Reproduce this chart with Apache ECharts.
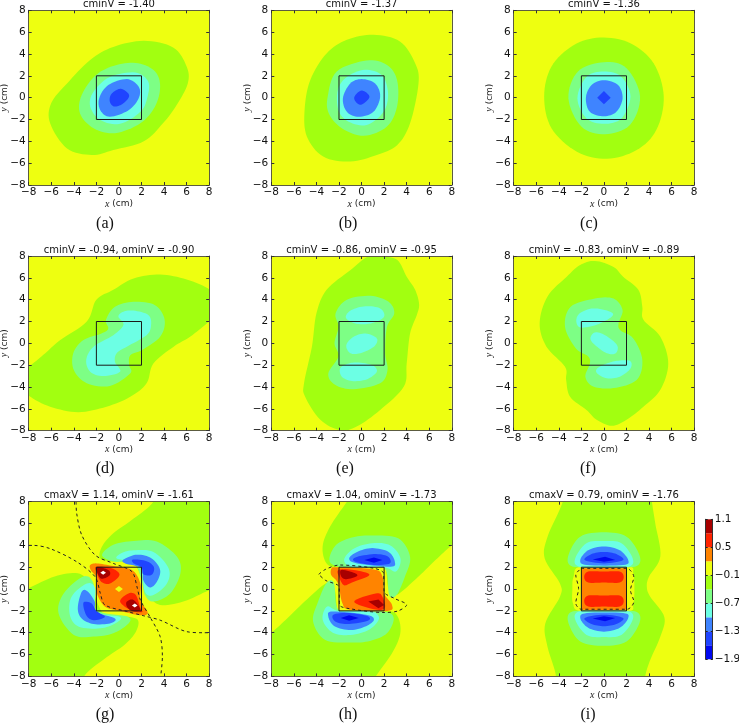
<!DOCTYPE html>
<html>
<head>
<meta charset="utf-8">
<style>
  html, body { margin: 0; padding: 0; background: #fff; }
  #main { width: 739px; height: 723px; }
</style>
<script src="https://cdn.jsdelivr.net/npm/echarts@6/dist/echarts.min.js"></script>
</head>
<body>
<div id="main"></div>
<script>
// panel text
const panelTitles = [
  'cminV = -1.40', 'cminV = -1.37', 'cminV = -1.36',
  'cminV = -0.94, ominV = -0.90', 'cminV = -0.86, ominV = -0.95', 'cminV = -0.83, ominV = -0.89',
  'cmaxV = 1.14, ominV = -1.61', 'cmaxV = 1.04, ominV = -1.73', 'cmaxV = 0.79, ominV = -1.76'
];
const panelLabels = ['(a)', '(b)', '(c)', '(d)', '(e)', '(f)', '(g)', '(h)', '(i)'];

// colour bar: band edges and ticks
const bandEdges = [-1.9, -1.6, -1.3, -1.0, -0.7, -0.4, -0.1, 0.2, 0.5, 0.8, 1.1];
const barTicks = [-1.9, -1.3, -0.7, -0.1, 0.5, 1.1];

// band numbers, counted up from the bottom of the colour bar
const DEEP = 0, MID = 1, BLUE = 2, CYAN = 3, PALE = 4, GREEN = 5, YELLOW = 6, ORANGE = 7, RED = 8, DARK = 9, OVER = 10;

// the box drawn on every panel, in cm
const boxOutline = [[-2, -2], [2, -2], [2, 2], [-2, 2], [-2, -2]];

// filled contours in cm, painted in this order: [band, outline]
const contoursA = [
  [GREEN, [[2.2,5.2],[4.8,4.6],[6,2.85],[6.1,1.3],[5.1,-0.7],[3.9,-2.35],[2.2,-4],[-0.5,-4.8],[-2.4,-5.25],[-4.6,-4.65],[-6.1,-2.35],[-6,-0.5],[-4.6,1.3],[-2.55,3.45],[-0.5,4.65]]],
  [PALE, [[1.7,3.15],[3.2,2.4],[3.65,1],[3.2,-0.8],[1.9,-2.35],[-0.35,-3.25],[-2.25,-2.8],[-3.45,-1.45],[-3.3,0.25],[-2,2.1],[-0.2,3]]],
  [CYAN, [[1.45,2.3],[2.6,1.45],[2.5,-0.05],[1.9,-1.3],[0.1,-2.4],[-1.65,-2.05],[-2.55,-0.8],[-2.25,0.55],[-0.8,1.9]]],
  [BLUE, [[0.7,1.7],[1.75,1],[1.75,-0.05],[0.85,-1.15],[-0.8,-1.75],[-1.65,-1.15],[-1.75,-0.05],[-0.95,1.15]]],
  [MID, [[0.25,0.8],[0.85,0.35],[0.8,-0.1],[0.2,-0.65],[-0.45,-0.8],[-0.8,-0.4],[-0.75,0.2],[-0.3,0.65]]]
];
const contoursB = [
  [GREEN, [[1.05,5.75],[3.4,5.15],[4.75,3.15],[5.05,1.3],[4.3,-2.35],[3.15,-4.35],[1.35,-5.25],[-1,-5.85],[-3.4,-5.4],[-4.85,-3.55],[-5.05,-1.15],[-4.55,1.6],[-3.1,4.05],[-1.3,5.3]]],
  [PALE, [[0.45,3.4],[2.25,3],[3.15,1.6],[3.15,-0.8],[2.25,-2.65],[0.2,-3.5],[-1.75,-2.8],[-2.9,-1.45],[-3,0.1],[-2.2,2.4]]],
  [CYAN, [[0.3,2.55],[1.8,2.05],[2.35,0.4],[1.95,-1.3],[0.45,-2.5],[-1.15,-2.2],[-2.05,-1.15],[-2.1,0.7],[-1.3,1.9]]],
  [BLUE, [[0,1.7],[1.2,1.3],[1.65,0.1],[1.05,-1.3],[-0.25,-1.75],[-1.3,-1.3],[-1.65,-0.05],[-1,1.3]]],
  [MID, [[0,0.65],[0.45,0.45],[0.7,0.05],[0.35,-0.4],[-0.1,-0.65],[-0.5,-0.4],[-0.65,0],[-0.4,0.4]]]
];
const contoursC = [
  [GREEN, [[-0.35,5.5],[2.3,5],[4.4,3.15],[5.3,0.1],[4.65,-2.95],[2.9,-4.8],[0.25,-5.6],[-2.4,-4.95],[-4.65,-2.8],[-5.3,0.1],[-4.65,2.85],[-2.7,4.8]]],
  [PALE, [[0,3.25],[2,2.7],[3.2,0.1],[2.3,-2.5],[0.1,-3.35],[-2,-2.65],[-3.15,-0.05],[-2.3,2.4]]],
  [CYAN, [[0,2.4],[1.55,1.9],[2.35,0.1],[1.55,-1.9],[0,-2.4],[-1.55,-1.9],[-2.35,-0.05],[-1.55,1.9]]],
  [BLUE, [[0,1.6],[1.25,1.15],[1.65,-0.05],[1.1,-1.3],[0,-1.7],[-1.25,-1.3],[-1.6,0],[-1.1,1.15]]],
  [MID, [[0,0.6],[0.6,0],[0,-0.6],[-0.6,0]]]
];
const contoursD = [
  [GREEN, [[3.65,6.3],[6,5.85],[8.1,4.9],[9.6,3.4],[8,2],[6.3,0.6],[4.85,-0.3],[3.05,-1.85],[2.45,-3.65],[1,-4.9],[-1.1,-5.8],[-3.6,-6.3],[-6.1,-5.8],[-8,-4.8],[-9.6,-3.4],[-8,-2.15],[-6.7,-1.05],[-5.2,0.3],[-2.85,2],[-2,4],[-0.5,4.9],[1.3,5.95]]],
  [PALE, [[1.3,3.8],[3.2,3.5],[4.05,2.15],[3.65,0.6],[2.05,-0.6],[1,-1.1],[0.9,-2],[1,-2.75],[-0.8,-3.9],[-2.85,-3.65],[-4,-2.45],[-4.05,-0.9],[-3.15,0.3],[-1.55,0.9],[-0.95,1.35],[-1.15,2.15],[-0.35,3.35]]],
  [CYAN, [[1.3,3],[2.6,2.6],[2.85,1.7],[2.45,0.75],[0.7,-0.3],[-0.2,-0.9],[-0.35,-1.7],[0.1,-2.6],[-1.4,-3],[-2.55,-2.6],[-2.9,-1.5],[-2.25,-0.3],[-0.5,0.75],[0.4,1.7],[-0.05,2.45],[0.4,2.9]]]
];
const contoursE = [
  [GREEN, [[1.65,7.95],[3.15,7.65],[4,6.1],[4.75,4.9],[5.1,3.6],[4.9,2.6],[4.3,0.9],[4,-1.85],[3.75,-3.95],[1.65,-6.1],[-0.4,-7.6],[-1.9,-7.95],[-3.65,-7],[-5,-4.9],[-5.1,-3.65],[-4.4,-0.3],[-4,2.75],[-3.1,4.9],[-1,6.7],[0.5,7.9]]],
  [PALE, [[0.8,4.35],[2.4,3.8],[2.9,2.75],[2.25,1.5],[2.1,-0.9],[2.3,-2.45],[1.65,-3.65],[-0.7,-4.2],[-2.35,-3.8],[-2.95,-2.75],[-2.05,-1.2],[-2.4,0],[-2.05,1.5],[-2.3,2.75],[-1.3,4]]],
  [CYAN, [[0.35,3.4],[1.65,3.2],[2,2.45],[1.1,1.9],[-0.1,1.75],[-1,2],[-1.4,2.45],[-0.9,3.05]]],
  [CYAN, [[0.35,0.9],[1.35,0.45],[1.1,-0.3],[-0.1,-0.9],[-1,-0.9],[-1.35,-0.15],[-0.7,0.6]]],
  [CYAN, [[-0.4,-1.75],[0.95,-2],[1.35,-2.6],[0.45,-3.3],[-0.85,-3.45],[-1.75,-3.05],[-1.9,-2.3],[-1.3,-1.9]]]
];
const contoursF = [
  [GREEN, [[-0.8,7.55],[0.85,7],[1.7,6.1],[3.05,4.9],[3.4,3.35],[3.5,2.15],[5,0.6],[5.7,-1.85],[5,-4.25],[3.5,-5.8],[2,-7],[0.7,-7.55],[-0.65,-7],[-1.55,-6.1],[-3,-4.9],[-3.35,-3.35],[-3.45,-2.15],[-5.1,-0.3],[-5.7,1.85],[-5,4.3],[-3.3,6.1],[-2.15,7.15]]],
  [PALE, [[-0.8,4.1],[0.85,4.1],[1.65,3.05],[1.3,1.85],[1.45,1.2],[2.6,0.45],[3.4,-1.5],[2.9,-3.35],[0.85,-4.1],[-0.95,-3.95],[-1.65,-3.05],[-1.25,-1.85],[-1.4,-1.2],[-2.5,-0.45],[-3.45,1.5],[-2.95,3.35]]],
  [CYAN, [[-0.95,3.2],[0.55,2.9],[0.7,2.45],[-0.65,1.7],[-2.05,1.45],[-2.45,2],[-2.15,2.75]]],
  [CYAN, [[-0.8,1],[0.1,0.75],[1.15,-0.15],[1.05,-0.9],[0.25,-0.9],[-0.8,-0.15],[-1.2,0.45]]],
  [CYAN, [[1.15,-1.6],[2.3,-1.6],[2.35,-2.3],[1.4,-3.05],[0.25,-3.2],[-0.6,-2.75],[-0.6,-2.3],[0.25,-1.85]]]
];
const contoursG = [
  [GREEN, [[3.05,8],[1.3,6.45],[-0.5,5.1],[-1.5,3.9],[-1.65,2.8],[-0.35,2.5],[1.3,2.35],[2.2,0.5],[2.6,-0.55],[3.65,-1.45],[5.7,-1.15],[8,-0.1],[9.5,0.5],[10,9],[3.5,10]]],
  [GREEN, [[-3.1,-8],[-1.3,-6.4],[0.5,-5.1],[1.5,-3.9],[1.65,-2.8],[0.35,-2.5],[-1.3,-2.35],[-2.2,-0.5],[-2.6,0.55],[-3.65,1.45],[-5.7,1.15],[-8,0.1],[-9.5,-0.5],[-10,-9],[-3.5,-10]]],
  [PALE, [[1.3,4.4],[3.35,4.35],[5.15,2.95],[5.45,1.45],[4.55,-0.4],[3.05,-1.15],[2.3,-0.55],[2,0.8],[1.3,2.5],[-0.35,2.5],[-1.5,3.1],[-0.5,4.05]]],
  [PALE, [[-5.35,-2.25],[-4.9,-0.4],[-3.15,1.15],[-2.25,0.5],[-2,-1.9],[0.7,-2.5],[0.85,-3.15],[-0.5,-4.05],[-2.25,-4.35],[-4,-4.2]]],
  [CYAN, [[1.3,3.55],[3.05,3.4],[4.4,1.9],[4.25,0.5],[3.05,-0.55],[2.3,-0.25],[2,1.75],[1.3,2.5],[-0.2,2.8],[0.25,3.3]]],
  [CYAN, [[-4.35,-2.4],[-4.2,-0.7],[-2.85,0.5],[-2.1,0.05],[-2,-2.1],[0.1,-2.55],[-0.35,-3.15],[-1.65,-3.6],[-3.55,-3.45]]],
  [BLUE, [[1.6,3.15],[2.9,2.8],[3.65,1.75],[3.35,0.65],[2.75,0.15],[2.15,0.8],[2,1.9],[0.55,2.35],[0.4,2.7]]],
  [BLUE, [[-3.65,-1.75],[-3.3,-0.25],[-2.8,-0.2],[-2.15,-1.15],[-2,-2.1],[-0.35,-2.7],[-0.8,-3.15],[-2.25,-3.2],[-3.3,-2.7]]],
  [MID, [[1.25,2.7],[2.45,2.55],[3.1,2],[2.9,1.3],[2.15,1.35],[2,2],[1.3,2.35]]],
  [MID, [[-3.15,-1.25],[-2.45,-1.3],[-2,-2],[-1.25,-2.55],[-2.25,-2.85],[-2.9,-2.4]]],
  [ORANGE, [[-2.55,2.2],[-1.95,2.35],[-0.5,2.1],[1.15,1.75],[1.9,0.5],[1.9,-1],[2.55,-2.15],[1.9,-2.4],[0.1,-2],[-1.25,-1.6],[-2,-0.25],[-2,1],[-2.5,1.75]]],
  [RED, [[-2,2.05],[-0.65,1.9],[0.05,1.3],[-0.8,0.5],[-1.55,0.65],[-1.95,1.45]]],
  [RED, [[0.1,-1.15],[0.85,-0.4],[1.5,-0.55],[1.9,-1.75],[2.05,-2.1],[1.15,-2]]],
  [DARK, [[-2,2],[-0.95,1.75],[-0.8,1.3],[-1.25,1],[-1.7,1.05]]],
  [DARK, [[0.7,-1.15],[1.3,-1],[1.9,-1.9],[1.15,-2],[0.7,-1.6]]],
  [OVER, [[-1.65,1.5],[-1.4,1.68],[-1.15,1.5],[-1.4,1.32]]],
  [OVER, [[1.15,-1.5],[1.4,-1.32],[1.65,-1.5],[1.4,-1.68]]],
  [YELLOW, [[-0.35,0],[0,0.27],[0.35,0],[0,-0.27]]]
];
const contoursH = [
  [GREEN, [[-1.3,8],[-2.8,5.7],[-3.45,3.9],[-3.1,2.35],[-1.95,2],[2,2],[2.2,1.5],[2.4,0],[3.1,-0.55],[5.05,1.15],[6.55,2.65],[8,4],[9.5,5],[10,9],[0,10]]],
  [GREEN, [[1.25,-8],[2.8,-5.7],[3.45,-3.9],[3.1,-2.35],[1.95,-2],[-2,-2],[-2.2,-1.5],[-2.4,0],[-3.1,0.55],[-5.05,-1.15],[-6.55,-2.65],[-8,-4],[-9.5,-5],[-10,-9],[0,-10]]],
  [PALE, [[0.95,4.9],[3.25,4.65],[4.3,2.95],[3.85,1.15],[3.1,-0.55],[2.45,-0.55],[2.15,1.75],[0.95,2],[-1.95,2.05],[-2.85,2.65],[-2.25,4.05],[-0.75,4.75]]],
  [PALE, [[-0.95,-4.9],[-3.25,-4.65],[-4.3,-2.95],[-3.85,-1.15],[-3.1,0.55],[-2.45,0.55],[-2.15,-1.75],[-0.95,-2],[1.95,-2.05],[2.85,-2.65],[2.25,-4.05],[0.75,-4.75]]],
  [CYAN, [[0.95,4.2],[2.55,4],[3.45,2.8],[3.05,1.6],[2,2],[-0.7,2],[-1.55,2.65],[-0.7,3.7]]],
  [CYAN, [[-0.95,-4.2],[-2.55,-4],[-3.45,-2.8],[-3.05,-1.6],[-2,-2],[0.7,-2],[1.55,-2.65],[0.7,-3.7]]],
  [BLUE, [[0.95,3.75],[2.4,3.4],[2.95,2.5],[2.55,2.05],[-0.4,2.35],[-1.1,2.8],[-0.4,3.4]]],
  [BLUE, [[-0.95,-3.75],[-2.4,-3.4],[-2.95,-2.5],[-2.55,-2.05],[0.4,-2.35],[1.1,-2.8],[0.4,-3.4]]],
  [MID, [[1.1,3.2],[2.3,3],[2.5,2.35],[1.1,2.2],[-0.55,2.5],[-0.55,2.9]]],
  [MID, [[-1.1,-3.2],[-2.3,-3],[-2.5,-2.35],[-1.1,-2.2],[0.55,-2.5],[0.55,-2.9]]],
  [DEEP, [[1.1,2.9],[1.85,2.65],[1.1,2.4],[0.25,2.65]]],
  [DEEP, [[-1.1,-2.9],[-1.85,-2.65],[-1.1,-2.4],[-0.25,-2.65]]],
  [ORANGE, [[-2.65,1.9],[-2.1,2],[1.1,1.8],[1.85,1.15],[2,-0.4],[2.7,-1.45],[2.3,-2],[-1,-1.9],[-1.7,-1.3],[-2,0.2],[-2.25,0.8],[-2.7,1.3]]],
  [RED, [[-2.05,1.75],[-0.7,1.75],[0.7,1.3],[-0.85,0.6],[-1.55,0.35],[-1.95,1]]],
  [RED, [[-0.65,-1.15],[1.25,-0.4],[1.85,-0.7],[2.05,-1.75],[1.1,-1.85]]],
  [DARK, [[-1.8,1.75],[-0.7,1.5],[-0.4,1.2],[-1.35,0.9],[-1.8,1.15]]],
  [DARK, [[0.6,-1.15],[1.5,-0.95],[2,-1.45],[1.5,-1.75]]]
];
const contoursI = [
  [GREEN, [[4.25,8],[4.55,6],[5,3],[4,1.15],[3.8,0.2],[4.1,-0.7],[5.35,-2.55],[5,-4.35],[4.1,-6.5],[3.65,-8],[3.4,-10],[-4.5,-10],[-4.25,-8],[-5,-5.3],[-5.2,-3.15],[-3.9,-0.7],[-3.9,0.5],[-5.25,2.8],[-5,4.8],[-3.65,8],[-3.5,10],[4,10]]],
  [YELLOW, [[-2,2.1],[2.1,2.1],[2.6,1.4],[2.7,0],[2.6,-1.4],[2.1,-2.05],[-2,-2.05],[-2.75,-1.3],[-2.8,0],[-2.7,1.1]]],
  [PALE, [[0,5.2],[2,4.8],[3.15,3.1],[2.9,2.1],[1,2],[-1,2],[-2.9,2.1],[-3.15,3.1],[-2.1,4.8]]],
  [PALE, [[0,-5.2],[-2.1,-4.8],[-3.15,-3.1],[-2.9,-2.1],[-1,-2],[1,-2],[2.9,-2.1],[3.15,-3.1],[2,-4.8]]],
  [CYAN, [[0,4.4],[1.55,4.2],[2.55,2.8],[2.2,2.05],[0,1.95],[-2.2,2.05],[-2.55,2.8],[-1.55,4.2]]],
  [CYAN, [[0,-4.4],[-1.55,-4.2],[-2.55,-2.8],[-2.2,-2.05],[0,-1.95],[2.2,-2.05],[2.55,-2.8],[1.55,-4.2]]],
  [BLUE, [[0,3.9],[1.4,3.55],[2.15,2.65],[1.7,2.2],[-1.5,2.2],[-2.1,2.65],[-1.4,3.55]]],
  [BLUE, [[0,-3.9],[-1.4,-3.55],[-2.1,-2.65],[-1.5,-2.2],[1.7,-2.2],[2.15,-2.65],[1.4,-3.55]]],
  [MID, [[0,3.4],[1.1,3.2],[1.7,2.65],[0,2.35],[-1.7,2.65],[-1.1,3.2]]],
  [MID, [[0,-3.4],[-1.1,-3.2],[-1.7,-2.65],[0,-2.35],[1.7,-2.65],[1.1,-3.2]]],
  [DEEP, [[0.1,2.95],[1,2.65],[0,2.5],[-1,2.7]]],
  [DEEP, [[0.1,-2.95],[-1,-2.7],[0,-2.5],[1,-2.65]]],
  [ORANGE, [[-1.7,1.9],[1.7,1.9],[2,1.6],[2,-1.6],[1.7,-1.9],[-1.7,-1.9],[-2,-1.6],[-2,1.6]]],
  [RED, [[-1.4,1.6],[0,1.6],[1.4,1.6],[1.75,1.1],[1.4,0.6],[0,0.6],[-1.4,0.6],[-1.75,1.1]]],
  [RED, [[-1.4,-0.6],[0,-0.6],[1.4,-0.6],[1.75,-1.1],[1.4,-1.6],[0,-1.6],[-1.4,-1.6],[-1.75,-1.1]]]
];
const panelContours = [contoursA, contoursB, contoursC, contoursD, contoursE, contoursF, contoursG, contoursH, contoursI];

// dashed zero contours, in cm
const zeroLinesG = [
  [[-3.8,8],[-3.75,6.95],[-3.3,4.95],[-2.1,3.1],[-0.5,2.35],[1.15,1.6],[1.6,0.2],[1.9,-1],[2.75,-2.55],[3.65,-4.35],[3.85,-6.2],[3.7,-8]],
  [[-8,4],[-7.6,4],[-6.1,3.7],[-3.75,2.5],[-2.1,1.1],[-1.65,-0.4],[-1.25,-1.45],[0.7,-2.05],[2.2,-2.45],[3.65,-2.85],[6,-3.9],[7.5,-4],[8,-4]]
];
const zeroLinesH = [
  [[-3.8,1.35],[-3.2,1.8],[-1.95,2.2],[1.1,1.9],[1.95,1.45],[2,-0.25],[2.9,-0.85],[4,-1.45],[3.25,-2],[2,-2.15],[-1.05,-1.8],[-1.95,-1.45],[-2,0.2],[-3.2,0.8],[-3.8,1.35]]
];
const zeroLinesI = [
  [[-2,1.9],[2,1.9],[2.65,1.1],[2.35,-0.1],[2.65,-1.15],[2.05,-1.85],[-2,-1.85],[-2.5,-1.3],[-2.25,0.05],[-2.5,1.3],[-2,1.9]]
];
const panelZeroLines = [[], [], [], [], [], [], zeroLinesG, zeroLinesH, zeroLinesI];

const bandColours = ['#0008f0', '#1f44ff', '#3f84ff', '#6cffe4', '#7dff85', '#a2ff10', '#eeff10', '#ff8400', '#ff2400', '#a80000', '#ffffff'];
const colLefts = [28.7, 271.3, 513.7];
const rowTops = [10.3, 256, 501.7];
const labelCentres = [105, 348, 589, 105, 345, 588, 105, 348, 588];
const plotWidth = 180.5;
const plotHeight = 174.7;
const sansFont = '"DejaVu Sans", sans-serif';
const serifFont = '"Liberation Serif", serif';

function minusSign(v) {
  return String(v).replace('-', '\u2212');
}

function nameRich() {
  return { i: { fontFamily: serifFont, fontStyle: 'italic', fontSize: 10, color: '#222' } };
}

// rounds a closed outline of pixel points (Catmull-Rom), only for drawing
function roundOutline(pts) {
  if (pts.length < 5) return pts;
  var out = [];
  var n = pts.length;
  for (var i = 0; i < n; i++) {
    var p0 = pts[(i + n - 1) % n], p1 = pts[i], p2 = pts[(i + 1) % n], p3 = pts[(i + 2) % n];
    for (var s = 0; s < 8; s++) {
      var t = s / 8, t2 = t * t, t3 = t2 * t;
      out.push([0, 1].map(function (k) {
        return 0.5 * (2 * p1[k] + (p2[k] - p0[k]) * t + (2 * p0[k] - 5 * p1[k] + 4 * p2[k] - p3[k]) * t2 + (3 * p1[k] - p0[k] - 3 * p2[k] + p3[k]) * t3);
      }));
    }
  }
  return out;
}

var option = { animation: false, backgroundColor: '#fff', title: [], grid: [], xAxis: [], yAxis: [], series: [] };

panelTitles.forEach(function (text, p) {
  var col = p % 3;
  var row = Math.floor(p / 3);
  var left = colLefts[col];
  var top = rowTops[row];

  option.title.push({
    text: text,
    left: left + plotWidth / 2,
    top: top - 11,
    textAlign: 'center',
    padding: 0,
    textStyle: { fontFamily: sansFont, fontSize: 10, fontWeight: 'normal', color: '#111' }
  });
  option.title.push({
    text: panelLabels[p],
    left: labelCentres[p],
    top: top + 205,
    textAlign: 'center',
    padding: 0,
    textStyle: { fontFamily: serifFont, fontSize: 16, fontWeight: 'normal', color: '#111' }
  });

  option.grid.push({
    left: left, top: top, width: plotWidth, height: plotHeight, show: true,
    backgroundColor: bandColours[YELLOW], borderWidth: 0, outerBoundsMode: 'none'
  });

  var axisBase = {
    gridIndex: p, type: 'value', min: -8, max: 8, interval: 2, z: 10,
    splitLine: { show: false },
    axisLine: { show: true, onZero: false, lineStyle: { color: '#5c5c40', width: 1 } },
    axisTick: { show: true, inside: true, length: 3, lineStyle: { color: '#333', width: 1 } }
  };
  var xLabels = {
    show: true, fontFamily: sansFont, fontSize: 10.5, color: '#111', margin: 2,
    showMinLabel: true, showMaxLabel: true, hideOverlap: false, formatter: minusSign
  };
  var yLabels = Object.assign({}, xLabels, { margin: 3 });
  option.xAxis.push(Object.assign({}, axisBase, {
    position: 'bottom',
    axisLabel: xLabels,
    name: '{i|x} (cm)', nameLocation: 'middle', nameGap: 14,
    nameTextStyle: { fontFamily: sansFont, fontSize: 9, color: '#222', rich: nameRich() }
  }));
  option.xAxis.push(Object.assign({}, axisBase, { position: 'top', axisLabel: { show: false } }));
  option.yAxis.push(Object.assign({}, axisBase, {
    position: 'left',
    axisLabel: yLabels,
    name: '{i|y} (cm)', nameLocation: 'middle', nameGap: 19, nameMoveOverlap: false,
    nameTextStyle: { fontFamily: sansFont, fontSize: 9, color: '#222', rich: nameRich() }
  }));
  option.yAxis.push(Object.assign({}, axisBase, { position: 'right', axisLabel: { show: false } }));

  var contours = panelContours[p];
  option.series.push({
    type: 'custom',
    xAxisIndex: p * 2,
    yAxisIndex: p * 2,
    clip: true,
    silent: true,
    z: 2,
    data: contours.map(function (c, i) { return [i]; }),
    encode: { x: -1, y: -1 },
    renderItem: function (params, api) {
      var item = contours[api.value(0)];
      return {
        type: 'polygon',
        shape: { points: roundOutline(item[1].map(function (pt) { return api.coord(pt); })) },
        style: { fill: bandColours[item[0]] }
      };
    }
  });

  panelZeroLines[p].forEach(function (line) {
    option.series.push({
      type: 'line', xAxisIndex: p * 2, yAxisIndex: p * 2, data: line, symbol: 'none', smooth: 0.3, silent: true, z: 4,
      lineStyle: { color: '#222', width: 1, type: [3, 3] }
    });
  });

  option.series.push({
    type: 'line', xAxisIndex: p * 2, yAxisIndex: p * 2, data: boxOutline, symbol: 'none', silent: true, z: 5,
    lineStyle: { color: '#1a1a1a', width: 1 }
  });
});

// colour bar
var barAxis = {
  gridIndex: 9, type: 'value', min: -1.9, max: 1.1, z: 10,
  splitLine: { show: false },
  axisLine: { show: true, onZero: false, lineStyle: { color: '#333', width: 1 } },
  axisTick: { show: true, inside: true, length: 2, customValues: barTicks, lineStyle: { color: '#222' } }
};
option.grid.push({ left: 705.7, top: 519.3, width: 7, height: 140, show: false, outerBoundsMode: 'none' });
option.xAxis.push({ gridIndex: 9, type: 'value', min: 0, max: 1, show: false });
option.yAxis.push(Object.assign({}, barAxis, {
  position: 'right',
  axisLabel: { show: true, fontFamily: sansFont, fontSize: 10.5, color: '#111', margin: 2, customValues: barTicks, formatter: function (v) { return minusSign(v.toFixed(1)); } }
}));
option.yAxis.push(Object.assign({}, barAxis, { position: 'left', axisLabel: { show: false } }));
option.series.push({
  type: 'custom',
  xAxisIndex: 18,
  yAxisIndex: 18,
  silent: true,
  data: bandEdges.slice(0, -1).map(function (low, i) { return [low, bandEdges[i + 1], i]; }),
  encode: { x: -1, y: [0, 1] },
  renderItem: function (params, api) {
    var a = api.coord([0, api.value(0)]);
    var b = api.coord([1, api.value(1)]);
    return {
      type: 'rect',
      shape: { x: a[0], y: b[1], width: b[0] - a[0], height: a[1] - b[1] },
      style: { fill: bandColours[api.value(2)] }
    };
  }
});

var chart = echarts.init(document.getElementById('main'), null, { renderer: 'canvas' });
chart.setOption(option);
</script>
</body>
</html>
